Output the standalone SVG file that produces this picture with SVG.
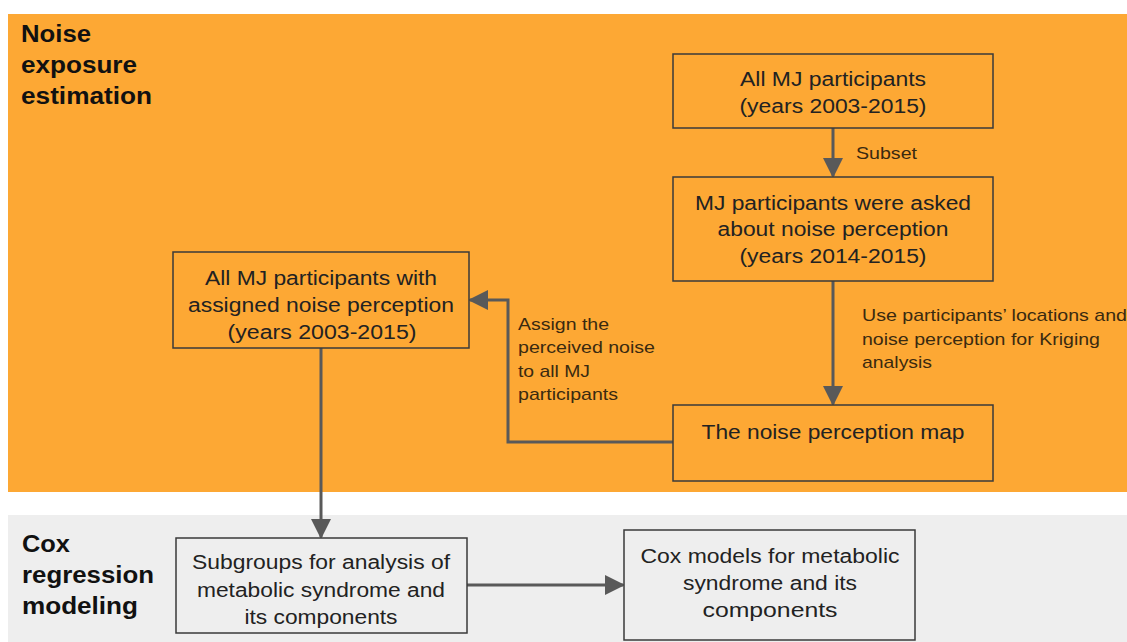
<svg xmlns="http://www.w3.org/2000/svg" width="1127" height="642" viewBox="0 0 1127 642">
<defs>
<style>
.band-t{font-family:"Liberation Sans",Arial,sans-serif;font-weight:bold;font-size:23px;fill:#111}
.box{stroke:#3a3a3a;stroke-width:1.5}
.or{fill:#FDA834}
.gr{fill:#EEEEEE}
.t{font-family:"Liberation Sans",Arial,sans-serif;font-size:20px;fill:#222;text-anchor:middle}
.lbl{font-family:"Liberation Sans",Arial,sans-serif;font-size:17px;fill:#3a2a10}
.con{fill:none;stroke:#595959;stroke-width:3}
</style>
<marker id="arr" viewBox="0 0 10 10" refX="9" refY="5" markerWidth="20" markerHeight="20" markerUnits="userSpaceOnUse" orient="auto">
<path d="M0,0 L10,5 L0,10 z" fill="#595959"/>
</marker>
</defs>
<rect width="1127" height="642" fill="#ffffff"/>
<g id="band-noise">
<rect x="8" y="14" width="1119" height="478" class="or"/>
<text class="band-t" x="21" y="42" textLength="70" lengthAdjust="spacingAndGlyphs">Noise</text>
<text class="band-t" x="21" y="73" textLength="116" lengthAdjust="spacingAndGlyphs">exposure</text>
<text class="band-t" x="21" y="104" textLength="131" lengthAdjust="spacingAndGlyphs">estimation</text>
</g>
<g id="band-cox">
<rect x="8" y="515" width="1119" height="127" class="gr"/>
<text class="band-t" x="22" y="552" textLength="48" lengthAdjust="spacingAndGlyphs">Cox</text>
<text class="band-t" x="22" y="583" textLength="132" lengthAdjust="spacingAndGlyphs">regression</text>
<text class="band-t" x="22" y="614" textLength="116" lengthAdjust="spacingAndGlyphs">modeling</text>
</g>
<g id="connectors">
<line class="con" x1="833" y1="128" x2="833" y2="176" marker-end="url(#arr)"/>
<line class="con" x1="833" y1="281" x2="833" y2="404" marker-end="url(#arr)"/>
<polyline class="con" points="673,442 508,442 508,300 470,300" marker-end="url(#arr)"/>
<line class="con" x1="321" y1="348" x2="321" y2="537" marker-end="url(#arr)"/>
<line class="con" x1="467" y1="585" x2="623" y2="585" marker-end="url(#arr)"/>
<text class="lbl" x="856" y="159" textLength="61" lengthAdjust="spacingAndGlyphs">Subset</text>
<text class="lbl" x="862" y="321" textLength="265" lengthAdjust="spacingAndGlyphs">Use participants’ locations and</text>
<text class="lbl" x="862" y="345" textLength="238" lengthAdjust="spacingAndGlyphs">noise perception for Kriging</text>
<text class="lbl" x="862" y="368" textLength="70" lengthAdjust="spacingAndGlyphs">analysis</text>
<text class="lbl" x="518" y="330" textLength="91" lengthAdjust="spacingAndGlyphs">Assign the</text>
<text class="lbl" x="518" y="353" textLength="137" lengthAdjust="spacingAndGlyphs">perceived noise</text>
<text class="lbl" x="518" y="377" textLength="72" lengthAdjust="spacingAndGlyphs">to all MJ</text>
<text class="lbl" x="518" y="400" textLength="100" lengthAdjust="spacingAndGlyphs">participants</text>
</g>
<g id="n-all">
<rect x="673" y="54" width="320" height="74" class="box or"/>
<text class="t" x="833" y="86" textLength="186" lengthAdjust="spacingAndGlyphs">All MJ participants</text>
<text class="t" x="833" y="113" textLength="187" lengthAdjust="spacingAndGlyphs">(years 2003-2015)</text>
</g>
<g id="n-asked">
<rect x="673" y="177" width="320" height="104" class="box or"/>
<text class="t" x="833" y="210" textLength="276" lengthAdjust="spacingAndGlyphs">MJ participants were asked</text>
<text class="t" x="833" y="236" textLength="231" lengthAdjust="spacingAndGlyphs">about noise perception</text>
<text class="t" x="833" y="263" textLength="187" lengthAdjust="spacingAndGlyphs">(years 2014-2015)</text>
</g>
<g id="n-map">
<rect x="673" y="405" width="320" height="76" class="box or"/>
<text class="t" x="833" y="439" textLength="263" lengthAdjust="spacingAndGlyphs">The noise perception map</text>
</g>
<g id="n-assigned">
<rect x="173" y="252" width="296" height="96" class="box or"/>
<text class="t" x="321" y="285" textLength="232" lengthAdjust="spacingAndGlyphs">All MJ participants with</text>
<text class="t" x="321" y="312" textLength="266" lengthAdjust="spacingAndGlyphs">assigned noise perception</text>
<text class="t" x="322" y="339" textLength="189" lengthAdjust="spacingAndGlyphs">(years 2003-2015)</text>
</g>
<g id="n-subgroups">
<rect x="176" y="538" width="291" height="95" class="box gr"/>
<text class="t" x="321" y="569" textLength="258" lengthAdjust="spacingAndGlyphs">Subgroups for analysis of</text>
<text class="t" x="321" y="597" textLength="248" lengthAdjust="spacingAndGlyphs">metabolic syndrome and</text>
<text class="t" x="321" y="624" textLength="153" lengthAdjust="spacingAndGlyphs">its components</text>
</g>
<g id="n-cox">
<rect x="624" y="530" width="291" height="110" class="box gr"/>
<text class="t" x="770" y="563" textLength="259" lengthAdjust="spacingAndGlyphs">Cox models for metabolic</text>
<text class="t" x="770" y="590" textLength="174" lengthAdjust="spacingAndGlyphs">syndrome and its</text>
<text class="t" x="770" y="617" textLength="135" lengthAdjust="spacingAndGlyphs">components</text>
</g>
</svg>
